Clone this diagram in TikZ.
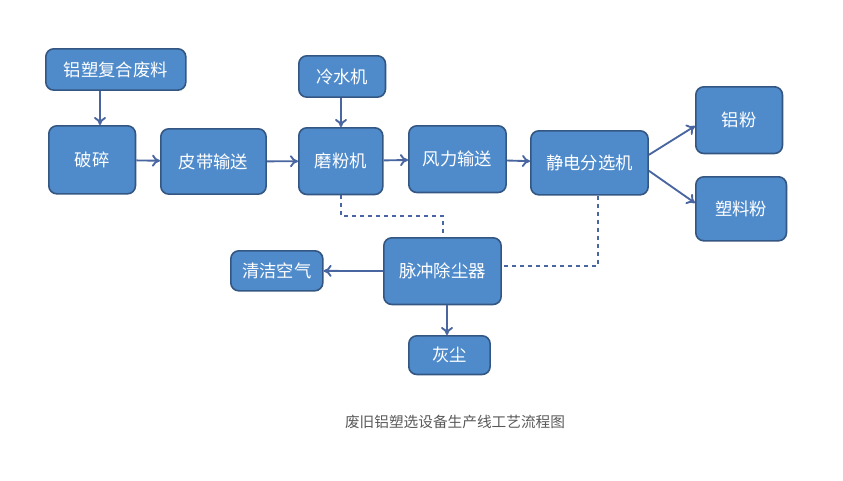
\documentclass[tikz,border=0pt]{standalone}
\usepackage{fontspec}
\newfontfamily\cjk{Noto Sans CJK SC}
\usetikzlibrary{arrows.meta,positioning}
\definecolor{boxblue}{RGB}{79,139,203}
\definecolor{boxline}{RGB}{52,86,130}
\definecolor{arrowc}{RGB}{74,102,160}

\begin{document}
\begin{tikzpicture}[x=0.75pt,y=-0.75pt,
    box/.style={draw=boxline, line width=1.2pt, fill=boxblue, rounded corners=6pt,
        text=white, font=\cjk\fontsize{13}{15}\selectfont, anchor=north west, inner sep=0pt},
    flow/.style={-{To[length=6pt,width=9pt]}, draw=arrowc, line width=1.4pt},
    dustline/.style={dashed, draw=arrowc, line width=1.3pt}]
    \useasboundingbox (0,0) rectangle (843,480);

    % boxes
    \node[box, minimum width=105pt, minimum height=31pt] (waste) at (45,48) {铝塑复合废料};
    \node[box, minimum width=65pt, minimum height=51pt] (crush) at (48,125) {破碎};
    \node[box, minimum width=79pt, minimum height=49pt] (belt) at (160,128) {皮带输送};
    \node[box, minimum width=65pt, minimum height=31pt] (chiller) at (298,55) {冷水机};
    \node[box, minimum width=63pt, minimum height=50pt] (mill) at (298,127) {磨粉机};
    \node[box, minimum width=73pt, minimum height=50pt] (wind) at (408,125) {风力输送};
    \node[box, minimum width=88pt, minimum height=48pt] (sep) at (530,130) {静电分选机};
    \node[box, minimum width=65pt, minimum height=50pt] (al) at (695,86) {铝粉};
    \node[box, minimum width=68pt, minimum height=48pt] (pl) at (695,176) {塑料粉};
    \node[box, minimum width=88pt, minimum height=50pt] (dust) at (383,237) {脉冲除尘器};
    \node[box, minimum width=69pt, minimum height=30pt] (air) at (230,250) {清洁空气};
    \node[box, minimum width=61pt, minimum height=29pt] (ash) at (408,335) {灰尘};

    % main flow
    \draw[flow] (waste.south -| 100,0) -- (crush.north -| 100,0);
    \draw[flow] (crush) -- (belt);
    \draw[flow] (belt) -- (mill);
    \draw[flow] (chiller.south -| 341,0) -- (mill.north -| 341,0);
    \draw[flow] (mill) -- (wind);
    \draw[flow] (wind) -- (sep);
    \draw[flow] (sep.east) ++(0,-8) coordinate (s1) -- (al.west |- 0,126) coordinate (a1);
    \draw[flow] (sep.east) ++(0,8) coordinate (s2) -- (pl.west |- 0,203) coordinate (p1);
    \draw[flow] (dust) -- (air);
    \draw[flow] (dust.south -| 447,0) -- (ash.north -| 447,0);

    % dust lines
    \draw[dustline] (mill.south -| 341,0) |- (443,216) -- (dust.north -| 443,0);
    \draw[dustline] (sep.south -| 598,0) |- (dust.east |- 0,266);

    % caption
    \node[font=\cjk\fontsize{11}{13}\selectfont, text=black!65] (title) at (455,422) {废旧铝塑选设备生产线工艺流程图};
\end{tikzpicture}
\end{document}
